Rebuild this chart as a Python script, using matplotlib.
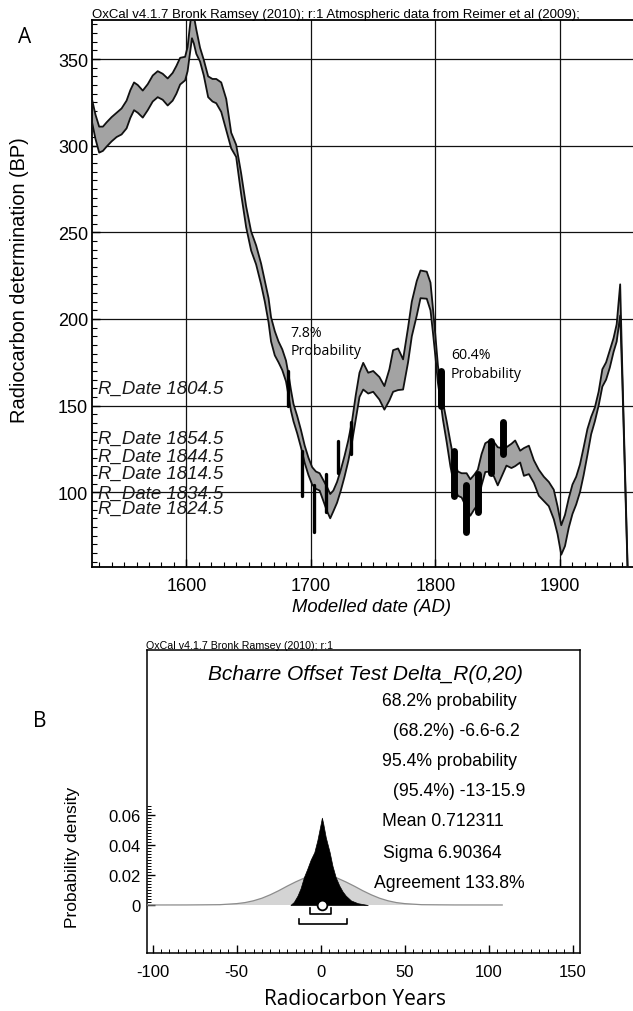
import matplotlib
matplotlib.use("Agg")
import matplotlib.pyplot as plt
from matplotlib.ticker import MultipleLocator, FixedLocator
import numpy as np

W, H, DPI = 633, 1012, 100
plt.rcParams['font.family'] = ['Liberation Sans', 'DejaVu Sans']
plt.rcParams['axes.unicode_minus'] = False

# ---------------- Panel A data: calibration curve ----------------
cal_year = [1524, 1527, 1530, 1533, 1536, 1540, 1544, 1548, 1552, 1555, 1558, 1561, 1565,
            1569, 1573, 1577, 1581, 1585, 1589, 1592, 1595, 1599, 1601, 1603, 1604.5, 1606,
            1608, 1611, 1614, 1617.5, 1621, 1624, 1628, 1632, 1636, 1640, 1644, 1648, 1652,
            1656, 1660, 1663, 1666, 1668, 1671, 1674, 1677, 1680, 1682, 1684, 1686, 1689,
            1692, 1695, 1698, 1701, 1704, 1707, 1710, 1713, 1715.5, 1718, 1721, 1724, 1727,
            1730, 1733, 1736, 1739, 1742, 1746, 1750, 1755, 1759, 1763, 1766, 1770, 1774,
            1778, 1781, 1785, 1788, 1793, 1796, 1798, 1800, 1802, 1804, 1806, 1809, 1812,
            1815, 1818, 1821, 1825, 1828, 1831, 1834, 1837, 1840, 1844, 1847, 1850, 1854,
            1857, 1861, 1864, 1868, 1871, 1875, 1879, 1883, 1887, 1891, 1895, 1898, 1901,
            1904, 1907, 1910, 1913, 1916, 1919, 1922, 1925, 1928, 1931, 1934, 1937, 1940,
            1943, 1945.5, 1948.3, 1950, 1952, 1954, 1956, 1958.6]
cal_bp = [321, 311, 303.5, 304, 306.5, 309.5, 312, 314, 318, 324, 328.5, 327, 324,
          328, 333, 335.5, 334, 331, 334, 338, 343, 344.5, 350, 362, 370, 367,
          360, 352.5, 345, 334, 332, 331.5, 328, 318, 303, 297, 278, 259, 245,
          237, 226, 216, 205, 194, 186, 181, 176.5, 170, 162, 153, 146, 139,
          131, 122, 115, 109.5, 107, 106, 101, 96, 92, 95, 100, 107, 115,
          124, 135, 149, 162, 167, 163, 164, 160, 154.5, 162, 170, 171, 168,
          185, 200, 212, 220, 219.5, 213, 199, 184, 168, 158, 147, 135, 122,
          111, 105, 104, 101, 97, 100, 103, 113, 120, 121, 119, 115, 118,
          120.7, 121, 122.5, 120.6, 117.5, 118.7, 112, 105.5, 102, 99, 93, 84, 72.5,
          78, 88, 96, 101, 108, 118, 129, 138.5, 145, 154, 166, 170, 177,
          185, 192, 211, 168, 116, 64, 12, -60]
cal_err = [6.5, 7, 7.5, 7, 7, 7, 7, 7.5, 8, 8, 8, 8, 7.8,
           7.5, 7.5, 7.5, 7.5, 7.8, 8, 8, 7.7, 6.8, 7, 8, 8, 8,
           7, 4, 4.5, 6, 6.5, 7, 8.5, 9, 4.5, 3.5, 6, 6, 5.5,
           5.5, 6, 6, 7, 7, 7, 6, 6, 6, 6, 6, 5, 5,
           5, 5, 5, 5, 5, 5, 6, 7, 7, 6, 6, 6, 6,
           6, 6, 7, 7, 7.7, 6, 6, 6.5, 6.8, 9, 12, 12, 8.7,
           10, 10, 10, 8, 7.8, 8, 7, 6, 5, 5, 5, 6, 7,
           7, 7, 7, 10, 10.5, 10, 10, 9, 8.3, 9, 10, 11, 7.4,
           5.3, 7, 7.4, 3.4, 8, 8.2, 6.5, 7.5, 7, 7, 8.5, 8, 8.5,
           9, 8.5, 8.5, 8, 8, 8, 7.5, 5, 4, 4, 5, 5, 5,
           4, 5, 9, 3, 2, 2, 2, 2]

rdate_year = [1804.5, 1814.5, 1824.5, 1834.5, 1844.5, 1854.5]
rdate_bp = [160, 111, 90.5, 99.5, 120.5, 131.3]
rdate_err = [10, 13, 13.5, 11, 9.2, 9.2]
alt_year = [1681.5, 1692.5, 1702.5, 1712.5, 1722, 1732]
prob_labels = ["7.8%", "60.4%"]

xticksA = [1600, 1700, 1800, 1900]
yticksA = [100, 150, 200, 250, 300, 350]

# ---------------- Panel B data: Delta_R distributions ----------------
prior_x = [-103, -80, -70, -60, -50, -45, -40, -35, -30, -25, -20, -15, -10, -5, 0,
           5, 10, 15, 20, 25, 30, 35, 40, 45, 50, 60, 70, 80, 108]
prior_y = [0, 0.00002, 0.0001, 0.0002, 0.0009, 0.0016, 0.0028, 0.0045, 0.0068, 0.0095,
           0.0125, 0.0153, 0.0178, 0.0194, 0.0199, 0.0194, 0.0178, 0.0153, 0.0125, 0.0095,
           0.0068, 0.0045, 0.0028, 0.0016, 0.0009, 0.0002, 0.0001, 0.00002, 0]
post_x = [-18, -16, -13.8, -12, -10, -8, -6, -3.8, -2, 0, 0.7, 1.5, 3, 5.3, 7, 8.9,
          11, 13, 14.9, 18, 22, 28]
post_y = [0, 0.002, 0.0062, 0.011, 0.0185, 0.024, 0.030, 0.0351, 0.043, 0.054, 0.058,
          0.054, 0.045, 0.0351, 0.026, 0.0185, 0.013, 0.009, 0.0062, 0.003, 0.0012, 0]
post_mean = 0.712311
range68 = (-6.6, 6.2)
range95 = (-13, 15.9)
statsB = ["68.2% probability", " (68.2%) -6.6-6.2", "95.4% probability",
          " (95.4%) -13-15.9", "Mean 0.712311", "Sigma 6.90364", "Agreement 133.8%"]
xticksB = [-100, -50, 0, 50, 100, 150]
yticksB = [0, 0.02, 0.04, 0.06]
yticklabelsB = ["0", "0.02", "0.04", "0.06"]

# ---------------- figure ----------------
fig = plt.figure(figsize=(W / DPI, H / DPI), dpi=DPI)


def fx(px):
    return px / W


def fy(py):
    return 1 - py / H


# ---- Panel A ----
axA = fig.add_axes([fx(91.7), fy(568), fx(633) - fx(91.7), fy(20.7) - fy(568)])
axA.set_xlim(1524, 1958.6)
axA.set_ylim(56.9, 372.7)
axA.set_axisbelow(True)

upper = [b + e for b, e in zip(cal_bp, cal_err)]
lower = [b - e for b, e in zip(cal_bp, cal_err)]
axA.fill_between(cal_year, lower, upper, facecolor='#a3a3a3', edgecolor='none', zorder=2)
axA.plot(cal_year, upper, color='#111111', lw=1.3, zorder=3)
axA.plot(cal_year, lower, color='#111111', lw=1.3, zorder=3)

for yr, b, e in zip(alt_year, rdate_bp, rdate_err):
    axA.plot([yr, yr], [b - e, b + e], color='k', lw=2.4, solid_capstyle='round', zorder=4)
for yr, b, e in zip(rdate_year, rdate_bp, rdate_err):
    axA.plot([yr, yr], [b - e, b + e], color='k', lw=5, solid_capstyle='round', zorder=4)
for yr, b in zip(rdate_year, rdate_bp):
    axA.text(1528.9, b, f"R_Date {yr}", fontsize=13.4, style='italic', va='center',
             ha='left', color='#1a1a1a', zorder=5)

osans = ['Open Sans', 'DejaVu Sans']
axA.text(1683.9, 192.1, prob_labels[0], fontsize=10.2, family=osans, va='center', ha='left')
axA.text(1683.9, 181.7, "Probability", fontsize=10.2, family=osans, va='center', ha='left')
axA.text(1812.4, 179.3, prob_labels[1], fontsize=10.2, family=osans, va='center', ha='left')
axA.text(1812.4, 168.4, "Probability", fontsize=10.2, family=osans, va='center', ha='left')

axA.xaxis.set_major_locator(FixedLocator(xticksA))
axA.xaxis.set_minor_locator(MultipleLocator(10))
axA.yaxis.set_major_locator(FixedLocator(yticksA))
axA.yaxis.set_minor_locator(MultipleLocator(5))
axA.grid(True, which='major', color='#111111', lw=0.9)
axA.tick_params(which='both', direction='in', top=False, right=False, labelsize=13)
axA.tick_params(which='major', length=6, width=1)
axA.tick_params(which='minor', length=3.5, width=0.8)
axA.tick_params(axis='x', pad=7)
axA.tick_params(axis='y', pad=2.5)
axA.spines['right'].set_visible(False)
for s in ['left', 'top', 'bottom']:
    axA.spines[s].set_linewidth(1.3)

fig.text(fx(92), fy(15), "OxCal v4.1.7 Bronk Ramsey (2010); r:1 Atmospheric data from Reimer et al (2009);",
         fontsize=9.5, ha='left', va='center')
fig.text(fx(20), fy(280.5), "Radiocarbon determination (BP)", fontsize=14.4, rotation=90,
         ha='center', va='center')
fig.text(fx(371), fy(608), "Modelled date (AD)", fontsize=13.3, style='italic',
         ha='center', va='center')
fig.text(fx(25), fy(37.5), "A", fontsize=15, family=osans, ha='center', va='center')

# ---- Panel B ----
axB = fig.add_axes([fx(147.3), fy(954.3), fx(580) - fx(147.3), fy(650.7) - fy(954.3)])
axB.set_xlim(-103.2, 154.3)
axB.set_ylim(-0.0321, 0.1696)

axB.fill_between(prior_x, prior_y, 0, facecolor='#d4d4d4', edgecolor='none', zorder=2)
axB.plot(prior_x, prior_y, color='#8c8c8c', lw=0.9, zorder=3)
axB.fill_between(post_x, post_y, 0, facecolor='black', edgecolor='black', lw=0.5, zorder=4)

yb1, yb1t = -0.006, -0.0022
axB.plot([range68[0], range68[0], range68[1], range68[1]], [yb1t, yb1, yb1, yb1t],
         color='k', lw=1.2, zorder=5)
yb2, yb2t = -0.0127, -0.0093
axB.plot([range95[0], range95[0], range95[1], range95[1]], [yb2t, yb2, yb2, yb2t],
         color='k', lw=1.2, zorder=5)
axB.plot([post_mean], [0], marker='o', ms=7, mfc='white', mec='black', mew=1.3, zorder=6)

axB.xaxis.set_major_locator(FixedLocator(xticksB))
axB.xaxis.set_minor_locator(MultipleLocator(5))
axB.yaxis.set_major_locator(FixedLocator(yticksB))
axB.yaxis.set_minor_locator(FixedLocator(list(np.arange(0, 0.0661, 0.002))))
axB.set_yticklabels(yticklabelsB)
axB.tick_params(which='both', direction='in', top=False, right=False, labelsize=12)
axB.tick_params(which='major', length=6, width=1)
axB.tick_params(which='minor', length=3, width=0.7)
axB.tick_params(axis='x', pad=8)
axB.tick_params(axis='y', pad=5)
for s in axB.spines.values():
    s.set_linewidth(1.1)

fig.text(fx(145.7), fy(646), "OxCal v4.1.7 Bronk Ramsey (2010); r:1", fontsize=7.7,
         ha='left', va='center')
fig.text(fx(366), fy(674), "Bcharre Offset Test Delta_R(0,20)", fontsize=15, style='italic',
         ha='center', va='center')
stat_cx = [449.3, 454.3, 449.3, 456.8, 443, 442.5, 449.8]
stat_cy = [701.7, 731.7, 761.7, 791.7, 821.7, 853.3, 883.3]
for s, cx, cy in zip(statsB, stat_cx, stat_cy):
    fig.text(fx(cx), fy(cy), s, fontsize=12.7, ha='center', va='center')

fig.text(fx(73), fy(857), "Probability density", fontsize=12.5, rotation=90,
         ha='center', va='center')
fig.text(fx(354.6), fy(1000), "Radiocarbon Years", fontsize=15, family=osans,
         ha='center', va='center')
fig.text(fx(40), fy(722), "B", fontsize=15, family=osans, ha='center', va='center')

fig.savefig("out.png", dpi=DPI)
